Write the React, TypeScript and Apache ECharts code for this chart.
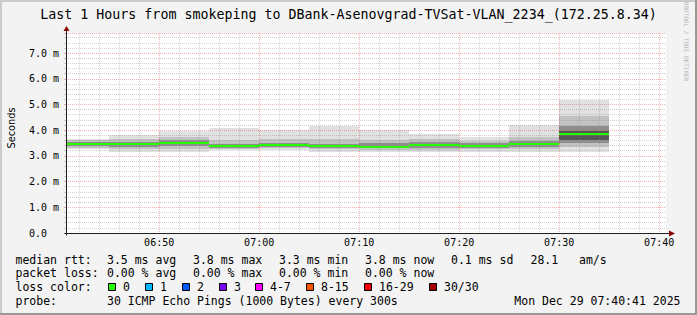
import React, { useEffect, useRef } from 'react';
import * as echarts from 'echarts';

// ---------- text ----------
const TITLE = 'Last 1 Hours from smokeping to DBank-Asenovgrad-TVSat-VLAN_2234_(172.25.8.34)';
const Y_TITLE = 'Seconds';
const WATERMARK = 'RRDTOOL / TOBI OETIKER';
const START_TIME = '06:40:41';
const END_TIME = '07:40:41';
const xTickLabels = ['06:50', '07:00', '07:10', '07:20', '07:30', '07:40'];

// ---------- data: one 5-minute step per entry (end time of step) ----------
const intervalEnds = ['06:45', '06:50', '06:55', '07:00', '07:05', '07:10', '07:15', '07:20', '07:25', '07:30', '07:35'];
const STEP_MINUTES = 5;
// ping round-trip quantiles in ms
const pingMin = [3.26, 3.17, 3.17, 3.21, 3.21, 3.17, 3.17, 3.17, 3.17, 3.14, 3.17];
const pingP10 = [3.30, 3.27, 3.28, 3.28, 3.30, 3.26, 3.24, 3.24, 3.26, 3.25, 3.35];
const pingP25 = [3.37, 3.36, 3.40, 3.32, 3.36, 3.31, 3.29, 3.30, 3.32, 3.33, 3.52];
const pingP40 = [3.42, 3.42, 3.46, 3.35, 3.40, 3.35, 3.31, 3.38, 3.36, 3.41, 3.62];
const median = [3.46, 3.46, 3.50, 3.37, 3.43, 3.37, 3.33, 3.44, 3.39, 3.46, 3.85];
const pingP60 = [3.49, 3.49, 3.53, 3.40, 3.46, 3.40, 3.40, 3.47, 3.44, 3.50, 3.98];
const pingP75 = [3.54, 3.55, 3.60, 3.46, 3.52, 3.47, 3.52, 3.53, 3.50, 3.58, 4.15];
const pingP90 = [3.60, 3.65, 3.72, 3.62, 3.66, 3.65, 3.62, 3.64, 3.58, 3.72, 4.55];
const pingMax = [3.65, 3.82, 3.95, 4.10, 4.00, 4.17, 4.00, 3.86, 3.72, 4.21, 5.19];
const lossPerInterval = [0, 0, 0, 0, 0, 0, 0, 0, 0, 0, 0];

// ---------- legend ----------
const rttLabel = 'median rtt:';
const rttStats = ['3.5 ms avg', '3.8 ms max', '3.3 ms min', '3.8 ms now', '0.1 ms sd', '28.1', 'am/s'];
const lossLabel = 'packet loss:';
const lossStats = ['0.00 % avg', '0.00 % max', '0.00 % min', '0.00 % now'];
const lossColorLabel = 'loss color:';
const lossBuckets = ['0', '1', '2', '3', '4-7', '8-15', '16-29', '30/30'];
const lossColors = ['#26ff00', '#00b8ff', '#0059ff', '#7e00ff', '#ff00ff', '#ff5500', '#ff0000', '#a10000'];
const probeLabel = 'probe:';
const probeText = '30 ICMP Echo Pings (1000 Bytes) every 300s';
const dateText = 'Mon Dec 29 07:40:41 2025';

// ---------- layout / style ----------
const W = 697, H = 315;
const GRID = { left: 66, top: 33, width: 600, height: 200 };
const Y_MAX = 7.78;
const MONO = 'DejaVu Sans Mono';
const bandColors = ['#e1e1e1', '#c2c2c2', '#8e8e8e', '#555555'];
const MGRID = 'rgba(222,48,48,0.38)';
const MINGRID = 'rgba(143,143,143,0.42)';
const statX = [107, 193, 279, 365, 451, 530.5, 579];
const swatchX = [108.5, 145.5, 182.5, 219.5, 255.5, 306.5, 364.5, 429.5];
const rowY = [259.5, 273, 287, 300.5];

const BASE = 6 * 60 + 40;
const toMin = (s: string) => {
  const p = s.split(':').map(Number);
  return p[0] * 60 + p[1] + (p[2] || 0) / 60 - BASE;
};
const fmtMin = (v: number) => {
  const t = Math.round(v + BASE);
  const h = Math.floor(t / 60), m = t % 60;
  return String(h).padStart(2, '0') + ':' + String(m).padStart(2, '0');
};

export default function App() {
  const ref = useRef<HTMLDivElement>(null);
  useEffect(() => {
    if (!ref.current) return;
    const chart = echarts.init(ref.current, undefined, { renderer: 'svg', width: W, height: H });
    const xMin = toMin(START_TIME), xMax = toMin(END_TIME);
    const ends = intervalEnds.map(toMin);
    const starts = ends.map((e) => e - STEP_MINUTES);
    const lows = [pingMin, pingP10, pingP25, pingP40];
    const highs = [pingMax, pingP90, pingP75, pingP60];
    const smokeData: number[][] = [];
    for (let l = 0; l < 4; l++) {
      for (let i = 0; i < ends.length; i++) smokeData.push([starts[i], ends[i], lows[l][i], highs[l][i], l]);
    }
    const medianData = ends.map((e, i) => [starts[i], e, median[i], lossPerInterval[i]]);
    const gridMinutes: number[][] = [];
    for (let m = 2; m <= xMax; m += 2) gridMinutes.push([m, m % 10 === 0 ? 1 : 0]);

    const clip = (r: any, cs: any) =>
      echarts.graphic.clipRectByRect(r, { x: cs.x, y: cs.y, width: cs.width, height: cs.height });

    const graphics: any[] = [];
    // frame
    graphics.push({ type: 'rect', shape: { x: 0, y: 0, width: W, height: 2 }, style: { fill: '#cbcbcb' }, z: 20 });
    graphics.push({ type: 'rect', shape: { x: 0, y: 0, width: 2, height: H }, style: { fill: '#cbcbcb' }, z: 20 });
    graphics.push({ type: 'rect', shape: { x: W - 2, y: 0, width: 2, height: H }, style: { fill: '#999999' }, z: 20 });
    graphics.push({ type: 'rect', shape: { x: 0, y: H - 2, width: W, height: 2 }, style: { fill: '#999999' }, z: 20 });
    // axes lines + arrows
    const gx = GRID.left + 0.5, gy = GRID.top + GRID.height + 0.5;
    graphics.push({ type: 'line', shape: { x1: gx, y1: gy + 2, x2: gx, y2: 29 }, style: { stroke: '#202020', lineWidth: 1 }, z: 20 });
    graphics.push({ type: 'line', shape: { x1: gx - 2, y1: gy, x2: 670, y2: gy }, style: { stroke: '#202020', lineWidth: 1 }, z: 20 });
    graphics.push({ type: 'polygon', shape: { points: [[gx - 3, 31], [gx + 3, 31], [gx, 26]] }, style: { fill: '#8b0000' }, z: 21 });
    graphics.push({ type: 'polygon', shape: { points: [[669, gy - 3], [669, gy + 3], [675, gy]] }, style: { fill: '#8b0000' }, z: 21 });
    // titles
    graphics.push({ type: 'text', x: W / 2, y: 14, style: { text: TITLE, fontFamily: MONO, fontSize: 13.3, fill: '#000', align: 'center', verticalAlign: 'middle' }, z: 20 });
    graphics.push({ type: 'text', x: 11, y: 128, rotation: Math.PI / 2, style: { text: Y_TITLE, fontFamily: 'DejaVu Sans', fontSize: 9.8, fill: '#000', align: 'center', verticalAlign: 'middle' }, z: 20 });
    graphics.push({ type: 'text', x: 686, y: 41.5, rotation: -Math.PI / 2, style: { text: WATERMARK, fontFamily: MONO, fontSize: 6, fill: '#b4b4b4', align: 'center', verticalAlign: 'middle' }, z: 20 });
    // legend rows
    const txt = (s: string, x: number, y: number) => ({ type: 'text', x, y, style: { text: s, fontFamily: MONO, fontSize: 11.5, fill: '#000', align: 'left', verticalAlign: 'middle' }, z: 20 });
    graphics.push(txt(rttLabel, 15.5, rowY[0]));
    rttStats.forEach((s, i) => graphics.push(txt(s, statX[i], rowY[0])));
    graphics.push(txt(lossLabel, 15.5, rowY[1]));
    lossStats.forEach((s, i) => graphics.push(txt(s, statX[i], rowY[1])));
    graphics.push(txt(lossColorLabel, 15.5, rowY[2]));
    lossBuckets.forEach((s, i) => {
      graphics.push({ type: 'rect', shape: { x: swatchX[i], y: rowY[2] - 3.5, width: 7, height: 7 }, style: { fill: lossColors[i], stroke: '#000', lineWidth: 1 }, z: 20 });
      graphics.push(txt(s, swatchX[i] + 14.5, rowY[2]));
    });
    graphics.push(txt(probeLabel, 15.5, rowY[3]));
    graphics.push(txt(probeText, statX[0], rowY[3]));
    graphics.push({ type: 'text', x: 680.5, y: rowY[3], style: { text: dateText, fontFamily: MONO, fontSize: 11.5, fill: '#000', align: 'right', verticalAlign: 'middle' }, z: 20 });

    chart.setOption({
      animation: false,
      backgroundColor: '#f3f3f3',
      grid: { ...GRID, show: true, backgroundColor: '#ffffff', borderWidth: 0 },
      xAxis: {
        type: 'value', min: xMin, max: xMax,
        axisLine: { show: false },
        axisTick: { show: false },
        splitLine: { show: false },
        axisLabel: {
          customValues: xTickLabels.map(toMin),
          formatter: (v: number) => fmtMin(v),
          fontFamily: MONO, fontSize: 10, color: '#000', margin: 4,
        },
      },
      yAxis: {
        type: 'value', min: 0, max: Y_MAX, interval: 1, z: 3,
        axisLine: { show: false },
        axisTick: { show: true, length: 2, lineStyle: { color: MGRID } },
        minorTick: { show: true, splitNumber: 5, length: 2, lineStyle: { color: MINGRID } },
        splitLine: { show: true, lineStyle: { color: MGRID, type: [1, 1], width: 1 } },
        minorSplitLine: { show: true, lineStyle: { color: MINGRID, type: [1, 1], width: 1 } },
        axisLabel: {
          formatter: (v: number) => (v === 0 ? '0.0' : v.toFixed(1) + ' m'),
          fontFamily: MONO, fontSize: 10, color: '#000', align: 'left', margin: 37,
          showMaxLabel: false,
        },
      },
      series: [
        {
          type: 'custom', z: 2, silent: true,
          data: smokeData,
          renderItem: (params: any, api: any) => {
            const p0 = api.coord([api.value(0), api.value(3)]);
            const p1 = api.coord([api.value(1), api.value(2)]);
            const x0 = Math.round(p0[0]), x1 = Math.round(p1[0]);
            const y0 = Math.round(p0[1]), y1 = Math.round(p1[1]);
            const r = clip({ x: x0, y: y0, width: x1 - x0, height: Math.max(1, y1 - y0) }, params.coordSys);
            return r ? { type: 'rect', shape: r, style: { fill: bandColors[api.value(4)] } } : null;
          },
        },
        {
          type: 'custom', z: 4, silent: true,
          data: medianData,
          renderItem: (params: any, api: any) => {
            const p0 = api.coord([api.value(0), api.value(2)]);
            const p1 = api.coord([api.value(1), api.value(2)]);
            const x0 = Math.round(p0[0]), x1 = Math.round(p1[0]);
            const y = Math.round(p0[1]);
            const r = clip({ x: x0, y: y - 1, width: x1 - x0, height: 2 }, params.coordSys);
            return r ? { type: 'rect', shape: r, style: { fill: lossColors[api.value(3)] } } : null;
          },
        },
        {
          type: 'custom', z: 3, silent: true,
          data: gridMinutes,
          renderItem: (params: any, api: any) => {
            const x = Math.round(api.coord([api.value(0), 0])[0]) + 0.5;
            const cs = params.coordSys;
            if (x < cs.x || x > cs.x + cs.width) return null;
            return {
              type: 'line',
              shape: { x1: x, y1: cs.y, x2: x, y2: cs.y + cs.height },
              style: { stroke: api.value(1) ? MGRID : MINGRID, lineWidth: 1, lineDash: [1, 1] },
            };
          },
        },
      ],
      graphic: graphics,
    });
    return () => chart.dispose();
  }, []);
  return <div ref={ref} style={{ position: 'fixed', left: 0, top: 0, width: W, height: H }} />;
}
